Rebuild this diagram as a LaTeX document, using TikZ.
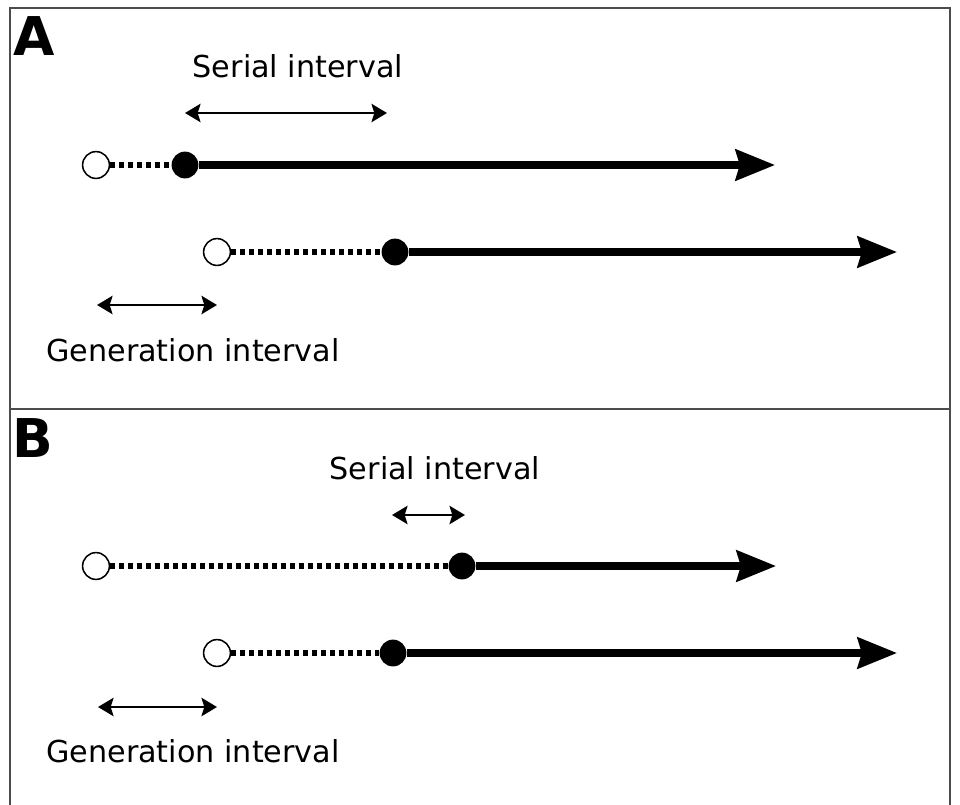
\documentclass[tikz,border=0pt]{standalone}
\usepackage{fontspec}
\setmainfont{DejaVu Sans}
\usetikzlibrary{arrows.meta}

\tikzset{
  infection/.style={circle, draw=black, line width=1.1pt, fill=white, minimum size=0.67cm, inner sep=0pt},
  onset/.style={circle, fill=black, minimum size=0.67cm, inner sep=0pt},
  latent/.style={line width=4pt, dash pattern=on 3.4pt off 3pt},
  symptomatic/.style={line width=5pt, -{Stealth[length=28pt, width=22pt, inset=3pt]}},
  span/.style={line width=1.9pt, {Stealth[length=11pt, width=13pt, inset=2pt]}-{Stealth[length=11pt, width=13pt, inset=2pt]}},
  label/.style={font=\fontsize{21.5}{24}\selectfont, inner sep=0pt},
  panel/.style={font=\fontsize{38}{40}\bfseries\selectfont, inner sep=0pt}
}

\begin{document}
\begin{tikzpicture}[x=0.025cm, y=-0.025cm]
\useasboundingbox (0,0) rectangle (960,804);
\begin{scope}
\clip (0,0) rectangle (960,804);
\draw[line width=1.2pt, black!70] (10,820) -- (10,8) -- (950,8) -- (950,820);
\draw[line width=1.2pt, black!70] (10,409) -- (950,409);
\end{scope}

% panel A
\node[panel] (labA) at (34,36) {A};
\node[label] (serA) at (298,66) {Serial interval};
\coordinate (serAl) at (185,113);
\coordinate (serAr) at (387,113);
\draw[span] (serAl) -- (serAr);

\node[infection] (a1inf) at (96,165) {};
\node[onset] (a1ons) at (185,165) {};
\coordinate (a1end) at (775,165);
\draw[latent] (a1inf) -- (a1ons);
\draw[symptomatic] (a1ons) -- (a1end);

\node[infection] (a2inf) at (217,252) {};
\node[onset] (a2ons) at (395,252) {};
\coordinate (a2end) at (897,252);
\draw[latent] (a2inf) -- (a2ons);
\draw[symptomatic] (a2ons) -- (a2end);

\coordinate (genAl) at (97,305);
\coordinate (genAr) at (217,305);
\draw[span] (genAl) -- (genAr);
\node[label] (genA) at (193,350) {Generation interval};

% panel B
\node[panel] (labB) at (33,438) {B};
\node[label] (serB) at (435,468) {Serial interval};
\coordinate (serBl) at (392,515);
\coordinate (serBr) at (465,515);
\draw[span] (serBl) -- (serBr);

\node[infection] (b1inf) at (96,566) {};
\node[onset] (b1ons) at (462,566) {};
\coordinate (b1end) at (776,566);
\draw[latent] (b1inf) -- (b1ons);
\draw[symptomatic] (b1ons) -- (b1end);

\node[infection] (b2inf) at (217,653) {};
\node[onset] (b2ons) at (393,653) {};
\coordinate (b2end) at (897,653);
\draw[latent] (b2inf) -- (b2ons);
\draw[symptomatic] (b2ons) -- (b2end);

\coordinate (genBl) at (98,707);
\coordinate (genBr) at (217,707);
\draw[span] (genBl) -- (genBr);
\node[label] (genB) at (193,751) {Generation interval};
\end{tikzpicture}
\end{document}
